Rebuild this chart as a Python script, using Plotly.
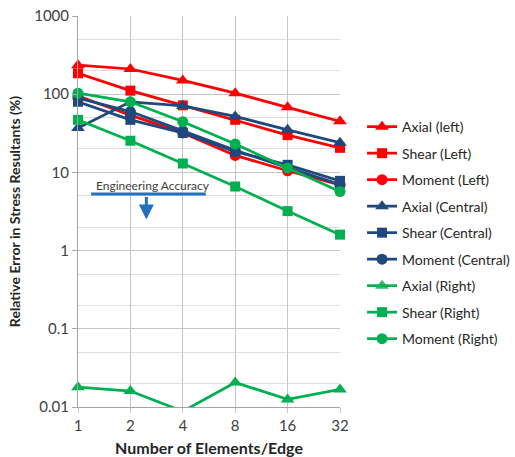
import math
import plotly.graph_objects as go

elements = [1, 2, 4, 8, 16, 32]
tick_labels = ["1", "2", "4", "8", "16", "32"]

axial_left = [235, 210, 150, 103, 68, 45]
shear_left = [185, 111, 72, 47, 30, 20.6]
moment_left = [95, 54, 32, 16.5, 10.5, 6.9]
axial_central = [37, 80, 71, 52, 35, 24]
shear_central = [80, 47, 32, 18.4, 12.5, 7.8]
moment_central = [89, 60, 34, 19.2, 11.5, 7.0]
axial_right = [0.0179, 0.016, 0.0088, 0.0206, 0.0125, 0.0168]
shear_right = [47, 25.4, 13, 6.6, 3.2, 1.6]
moment_right = [103, 80, 44.5, 23, 11.4, 5.7]

series_names = ["Axial (left)", "Shear (Left)", "Moment (Left)",
                "Axial (Central)", "Shear (Central)", "Moment (Central)",
                "Axial (Right)", "Shear (Right)", "Moment (Right)"]
series_values = [axial_left, shear_left, moment_left,
                 axial_central, shear_central, moment_central,
                 axial_right, shear_right, moment_right]

eng_accuracy = 5.3
eng_x_start, eng_x_end = 1.19, 5.42
arrow_x = 2.47
arrow_tip = 2.5

RED = "#ff0000"
NAVY = "#1f497d"
GREEN = "#00b050"
BLUE = "#2470bd"
colors = [RED] * 3 + [NAVY] * 3 + [GREEN] * 3
symbols = ["triangle-up", "square", "circle"] * 3
sizes = {"triangle-up": 12, "square": 10, "circle": 11}

Y_MIN, Y_MAX = 0.01, 1000
FONT = "Lato"

fig = go.Figure()
for i, (name, vals) in enumerate(zip(series_names, series_values)):
    sym = symbols[i]
    opac = [1 if v >= Y_MIN else 0 for v in vals]
    fig.add_trace(go.Scatter(
        x=elements, y=vals, name=name, mode="lines+markers",
        line=dict(color=colors[i], width=2.75),
        marker=dict(symbol=sym, size=sizes[sym], color=colors[i], opacity=opac),
        cliponaxis=False, legendgroup=name,
    ))

# engineering accuracy line
fig.add_trace(go.Scatter(
    x=[eng_x_start, eng_x_end], y=[eng_accuracy, eng_accuracy], mode="lines",
    line=dict(color=BLUE, width=3), showlegend=False, hoverinfo="skip",
))
fig.add_annotation(x=math.log10(arrow_x), y=math.log10(arrow_tip), xref="x", yref="y",
                   ax=0, ay=-24, text="", showarrow=True, arrowhead=2,
                   arrowsize=1, arrowwidth=3, arrowcolor=BLUE, standoff=0)
fig.add_annotation(x=math.log10(math.sqrt(eng_x_start * eng_x_end) * 1.06), y=math.log10(eng_accuracy),
                   xref="x", yref="y", text="Engineering Accuracy", showarrow=False,
                   yanchor="bottom", yshift=-1, font=dict(family=FONT, size=12, color="#404040"))

fig.update_layout(
    width=515, height=457,
    margin=dict(l=78, r=175, t=16, b=50),
    paper_bgcolor="white", plot_bgcolor="white",
    font=dict(family=FONT, size=13, color="#404040"),
    showlegend=True,
    legend=dict(xref="container", yref="container", x=0.703, y=0.757,
                xanchor="left", yanchor="top", maxheight=360,
                font=dict(family=FONT, size=14, color="#262626"),
                tracegroupgap=5.3, bgcolor="rgba(0,0,0,0)"),
    xaxis=dict(type="log", range=[0, math.log10(32)], tickvals=elements, ticktext=tick_labels,
               automargin=False,
               showgrid=True, gridcolor="#c6c6c6", gridwidth=1,
               ticks="outside", ticklen=5, tickcolor="#c6c6c6",
               ticklabelstandoff=0,
               showline=True, linecolor="#a6a6a6",
               tickfont=dict(family=FONT, size=15, color="#404040"),
               title=dict(text="<b>Number of Elements/Edge</b>", standoff=14,
                          font=dict(family=FONT, size=16, color="#262626")),
               zeroline=False),
    yaxis=dict(type="log", range=[math.log10(Y_MIN), math.log10(Y_MAX)],
               tickvals=[0.01, 0.1, 1, 10, 100, 1000], ticktext=["0.01", "0.1", "1", "10", "100", "1000"],
               automargin=False,
               showgrid=True, gridcolor="#c6c6c6", gridwidth=1,
               minor=dict(showgrid=True, gridcolor="#dedede", ticks=""),
               ticks="outside", ticklen=5, tickcolor="#a6a6a6",
               showline=True, linecolor="#a6a6a6",
               tickfont=dict(family=FONT, size=15, color="#404040"),
               title=dict(text="<b>Relative Error in Stress Resultants (%)</b>", standoff=10,
                          font=dict(family=FONT, size=14, color="#262626")),
               zeroline=False),
)

fig.write_html("out.html")
